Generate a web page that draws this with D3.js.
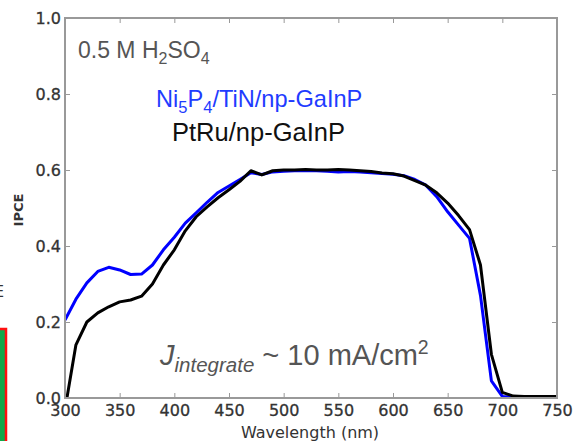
<!DOCTYPE html>
<html>
<head>
<meta charset="utf-8">
<script src="https://cdn.jsdelivr.net/npm/d3@7"></script>
<style>
  body { margin: 0; background: #fff; }
  svg { display: block; }
</style>
</head>
<body>
<div id="chart"></div>
<script>
// wavelengths (nm) shared by both curves
var wavelength = [300, 310, 320, 330, 340, 350, 360, 370, 380, 390, 400, 410, 420, 430, 440,
  450, 460, 470, 480, 490, 500, 510, 520, 530, 540, 550, 560, 570, 580, 590, 600, 610, 620,
  630, 640, 650, 660, 670, 680, 690, 700, 710, 720, 730, 740, 750];

// Ni5P4/TiN/np-GaInP (blue)
var ipceNiP = [0.205, 0.26, 0.303, 0.333, 0.344, 0.337, 0.325, 0.326, 0.35, 0.39, 0.423, 0.46,
  0.487, 0.515, 0.541, 0.558, 0.575, 0.593, 0.588, 0.595, 0.597, 0.598, 0.599, 0.598, 0.597,
  0.595, 0.596, 0.595, 0.593, 0.591, 0.589, 0.585, 0.575, 0.56, 0.53, 0.49, 0.455, 0.42, 0.27,
  0.045, 0.004, 0.003, 0.003, 0.003, 0.003, 0.003];

// PtRu/np-GaInP (black)
var ipcePtRu = [-0.03, 0.14, 0.2, 0.224, 0.24, 0.253, 0.258, 0.268, 0.3, 0.35, 0.39, 0.44,
  0.477, 0.503, 0.527, 0.548, 0.57, 0.598, 0.587, 0.598, 0.6, 0.6, 0.601, 0.6, 0.6, 0.601,
  0.6, 0.598, 0.596, 0.592, 0.59, 0.584, 0.572, 0.56, 0.54, 0.513, 0.48, 0.443, 0.35, 0.115,
  0.015, 0.005, 0.004, 0.004, 0.004, 0.004];

var xTicks = [300, 350, 400, 450, 500, 550, 600, 650, 700, 750];
var yTicks = [0.0, 0.2, 0.4, 0.6, 0.8, 1.0];

var W = 575, H = 441;
var margin = { top: 18, right: 18, bottom: 43, left: 65 },
    width = W - margin.left - margin.right,
    height = H - margin.top - margin.bottom;

var svg = d3.select("#chart").append("svg")
    .attr("width", W)
    .attr("height", H);

// bits of the neighbouring panel that got cropped into the picture
svg.append("text")
    .attr("x", -6).attr("y", 297)
    .style("font-family", "DejaVu Sans").style("font-size", "16px").style("fill", "#333")
    .text("E");
svg.append("rect")
    .attr("x", -4).attr("y", 329)
    .attr("width", 10).attr("height", 120)
    .attr("fill", "#12a84a").attr("stroke", "#ff1010").attr("stroke-width", 2.5);

var g = svg.append("g")
    .attr("transform", "translate(" + margin.left + "," + margin.top + ")");

var x = d3.scaleLinear().domain([300, 750]).range([0, width]);
var y = d3.scaleLinear().domain([0, 1]).range([height, 0]);

g.append("defs").append("clipPath")
    .attr("id", "clip")
    .append("rect")
    .attr("width", width).attr("height", height);

var tickFont = "DejaVu Sans";

// axes: labels on bottom / left, inward ticks on all four sides
var xAxis = g.append("g")
    .attr("transform", "translate(0," + height + ")")
    .call(d3.axisBottom(x).tickValues(xTicks).tickSize(-5).tickPadding(8));
var yAxis = g.append("g")
    .call(d3.axisLeft(y).tickValues(yTicks).tickSize(-5).tickPadding(4)
      .tickFormat(d3.format(".1f")));
g.append("g")
    .call(d3.axisTop(x).tickValues(xTicks).tickSize(-5).tickFormat(""));
g.append("g")
    .attr("transform", "translate(" + width + ",0)")
    .call(d3.axisRight(y).tickValues(yTicks).tickSize(-5).tickFormat(""));

g.selectAll(".domain").remove();
g.selectAll(".tick line").attr("stroke", "#999").attr("stroke-width", 1);
g.selectAll(".tick text")
    .style("font-family", tickFont)
    .style("font-size", "16px")
    .style("fill", "#333")
    .style("stroke", "#333").style("stroke-width", 0.3);
xAxis.selectAll(".tick text").attr("dy", "0.6em");

// the curves
var series = [
  { name: "PtRu", values: ipcePtRu, color: "#000000" },
  { name: "NiP", values: ipceNiP, color: "#0000ff" }
];

var line = d3.line()
    .x(function(d) { return x(d[0]); })
    .y(function(d) { return y(d[1]); });

// blue drawn first, black on top
[series[1], series[0]].forEach(function(s) {
  g.append("path")
      .datum(wavelength.map(function(w, i) { return [w, s.values[i]]; }))
      .attr("clip-path", "url(#clip)")
      .attr("fill", "none")
      .attr("stroke", s.color)
      .attr("stroke-width", 3)
      .attr("stroke-linejoin", "round")
      .attr("d", line);
});

// frame
g.append("rect")
    .attr("width", width).attr("height", height)
    .attr("fill", "none")
    .attr("stroke", "#999")
    .attr("stroke-width", 2);

// axis titles
svg.append("text")
    .attr("x", margin.left + width / 2 - 1)
    .attr("y", 438)
    .attr("text-anchor", "middle")
    .style("font-family", "DejaVu Sans").style("font-size", "16px").style("fill", "#333")
    .text("Wavelength (nm)");
svg.append("text")
    .attr("transform", "translate(23,210) rotate(-90)")
    .attr("text-anchor", "middle")
    .style("font-family", "DejaVu Sans").style("font-size", "13px")
    .style("font-weight", "bold").style("fill", "#333")
    .text("IPCE");

// annotations
var ann = "Liberation Sans";
var t1 = svg.append("text")
    .attr("x", 78).attr("y", 58)
    .style("font-family", ann).style("font-size", "23px").style("fill", "#555");
t1.append("tspan").text("0.5 M H");
t1.append("tspan").attr("dy", 6).style("font-size", "16px").text("2");
t1.append("tspan").attr("dy", -6).text("SO");
t1.append("tspan").attr("dy", 6).style("font-size", "16px").text("4");

var t2 = svg.append("text")
    .attr("x", 156).attr("y", 107)
    .style("font-family", ann).style("font-size", "23.6px").style("fill", "#1f3cff");
t2.append("tspan").text("Ni");
t2.append("tspan").attr("dy", 6).style("font-size", "16.5px").text("5");
t2.append("tspan").attr("dy", -6).text("P");
t2.append("tspan").attr("dy", 6).style("font-size", "16.5px").text("4");
t2.append("tspan").attr("dy", -6).text("/TiN/np-GaInP");

svg.append("text")
    .attr("x", 172).attr("y", 141)
    .style("font-family", ann).style("font-size", "25.5px").style("fill", "#111")
    .text("PtRu/np-GaInP");

var t3 = svg.append("text")
    .attr("x", 160).attr("y", 365)
    .style("font-family", ann).style("font-size", "29px").style("fill", "#555");
t3.append("tspan").style("font-style", "italic").text("J");
t3.append("tspan").attr("dy", 7).style("font-style", "italic").style("font-size", "20.5px").text("integrate");
t3.append("tspan").attr("dy", -7).text(" ~ 10 mA/cm");
t3.append("tspan").attr("dy", -11).style("font-size", "19.5px").text("2");
</script>
</body>
</html>
